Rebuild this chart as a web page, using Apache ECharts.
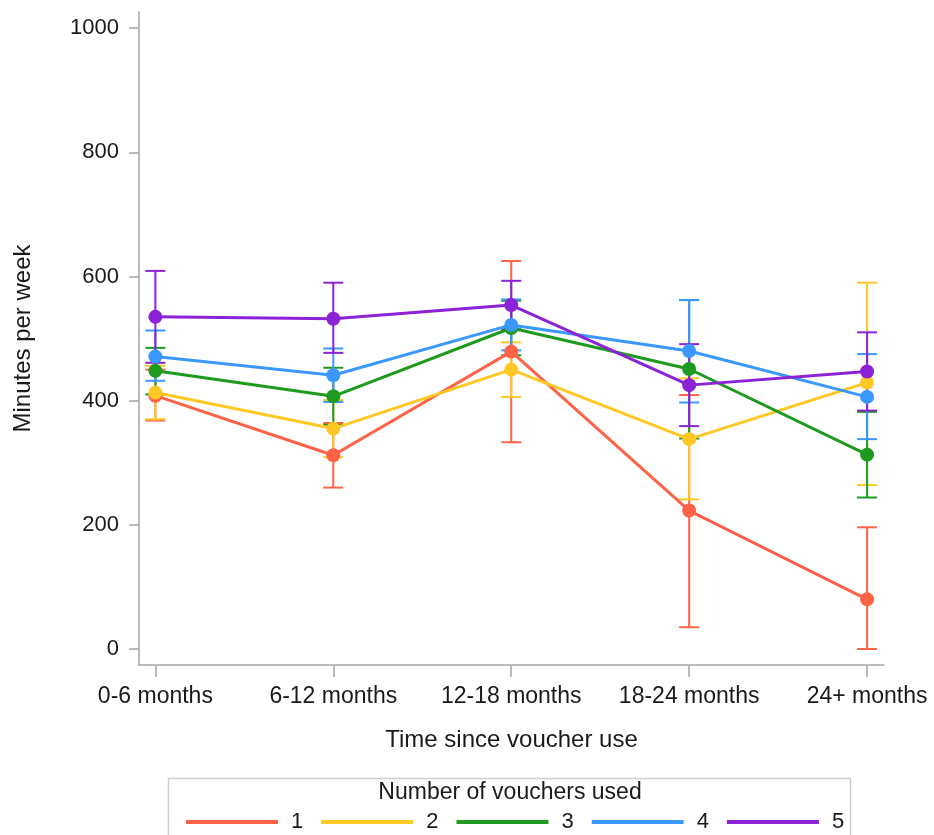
<!DOCTYPE html>
<html>
<head>
<meta charset="utf-8">
<script src="https://cdn.jsdelivr.net/npm/echarts@6/dist/echarts.min.js"></script>
<style>html,body{margin:0;padding:0;background:#fff}#c{width:934px;height:835px}</style>
</head>
<body>
<div id="c"></div>
<script>
const categories = ['0-6 months', '6-12 months', '12-18 months', '18-24 months', '24+ months'];
const yTicks = [0, 200, 400, 600, 800, 1000];
const groupNames = ['1', '2', '3', '4', '5'];
const colors = ['#FF6347', '#FFC825', '#1E9B1E', '#3A98FF', '#8C22D6'];

const mean1 = [408, 312, 479, 223, 80];
const mean2 = [413, 355, 450, 338, 429];
const mean3 = [448, 407, 517, 451, 313];
const mean4 = [471, 441, 522, 480, 406];
const mean5 = [535, 532, 554, 425, 447];

const lower1 = [368, 260, 333, 35, 0];
const lower2 = [370, 309, 406, 241, 264];
const lower3 = [410, 361, 473, 339, 244];
const lower4 = [432, 398, 481, 397, 338];
const lower5 = [461, 477, 515, 359, 384];

const upper1 = [450, 364, 625, 409, 196];
const upper2 = [456, 401, 494, 436, 590];
const upper3 = [485, 453, 561, 562, 382];
const upper4 = [513, 484, 563, 562, 475];
const upper5 = [609, 590, 593, 491, 510];

const means = [mean1, mean2, mean3, mean4, mean5];
const lowers = [lower1, lower2, lower3, lower4, lower5];
const uppers = [upper1, upper2, upper3, upper4, upper5];

const FONT = '"Liberation Sans", Arial, sans-serif';
const AXIS_COLOR = '#a2a6aa';
const TEXT = '#1a1a1a';

const series = [];
groupNames.forEach((g, i) => {
  series.push({
    type: 'custom',
    name: 'err' + g,
    data: categories.map((c, k) => [k, lowers[i][k], uppers[i][k]]),
    encode: { x: 0, y: [1, 2] },
    renderItem: function (params, api) {
      const x = api.value(0);
      const lo = api.coord([x, api.value(1)]);
      const hi = api.coord([x, api.value(2)]);
      const hw = 10;
      const st = { stroke: colors[i], lineWidth: 2 };
      return {
        type: 'group',
        children: [
          { type: 'line', shape: { x1: lo[0], y1: lo[1], x2: hi[0], y2: hi[1] }, style: st },
          { type: 'line', shape: { x1: lo[0] - hw, y1: lo[1], x2: lo[0] + hw, y2: lo[1] }, style: st },
          { type: 'line', shape: { x1: hi[0] - hw, y1: hi[1], x2: hi[0] + hw, y2: hi[1] }, style: st }
        ]
      };
    },
    silent: true
  });
  series.push({
    type: 'line',
    name: g,
    data: categories.map((c, k) => [k, means[i][k]]),
    symbol: 'circle',
    symbolSize: 14,
    itemStyle: { color: colors[i] },
    lineStyle: { color: colors[i], width: 3 }
  });
});

const chart = echarts.init(document.getElementById('c'), null, { renderer: 'canvas' });
chart.setOption({
  animation: false,
  backgroundColor: '#fff',
  textStyle: { fontFamily: FONT },
  grid: { left: 139, right: 50, top: 12, bottom: 170, containLabel: false },
  xAxis: {
    type: 'value',
    min: -0.092,
    max: 4.095,
    name: 'Time since voucher use',
    nameLocation: 'middle',
    nameGap: 63,
    nameTextStyle: { fontSize: 24, color: TEXT, fontFamily: FONT },
    axisLine: { show: true, onZero: false, lineStyle: { color: AXIS_COLOR, width: 1.5 } },
    axisTick: { show: true, length: 12, customValues: [0, 1, 2, 3, 4], lineStyle: { color: AXIS_COLOR, width: 1.5 } },
    axisLabel: {
      customValues: [0, 1, 2, 3, 4],
      formatter: v => categories[Math.round(v)],
      fontSize: 23, color: TEXT, margin: 20, fontFamily: FONT
    },
    splitLine: { show: false }
  },
  yAxis: {
    type: 'value',
    min: -25.8,
    max: 1026,
    name: 'Minutes per week',
    nameLocation: 'middle',
    nameGap: 104,
    nameRotate: 90,
    nameTextStyle: { fontSize: 24, color: TEXT, fontFamily: FONT },
    axisLine: { show: true, onZero: false, lineStyle: { color: AXIS_COLOR, width: 1.5 } },
    axisTick: { show: true, length: 10, customValues: yTicks, lineStyle: { color: AXIS_COLOR, width: 1.5 } },
    axisLabel: { customValues: yTicks, formatter: v => String(v), fontSize: 22, color: TEXT, margin: 20, fontFamily: FONT },
    splitLine: { show: false }
  },
  legend: {
    data: groupNames,
    left: 181,
    top: 806,
    orient: 'horizontal',
    icon: 'rect',
    itemWidth: 92,
    itemHeight: 4,
    itemGap: 18,
    textStyle: { fontSize: 22, color: TEXT, padding: [0, 0, 0, 8], fontFamily: FONT },
    selectedMode: false
  },
  graphic: [
    { type: 'rect', shape: { x: 168.5, y: 778.5, width: 682, height: 80 }, style: { fill: 'none', stroke: '#cfcfcf', lineWidth: 1.5 }, silent: true },
    { type: 'text', x: 510, y: 793, style: { text: 'Number of vouchers used', fontSize: 23, fontFamily: FONT, fill: TEXT, textAlign: 'center', textVerticalAlign: 'middle' }, silent: true }
  ],
  series: series
});
</script>
</body>
</html>
